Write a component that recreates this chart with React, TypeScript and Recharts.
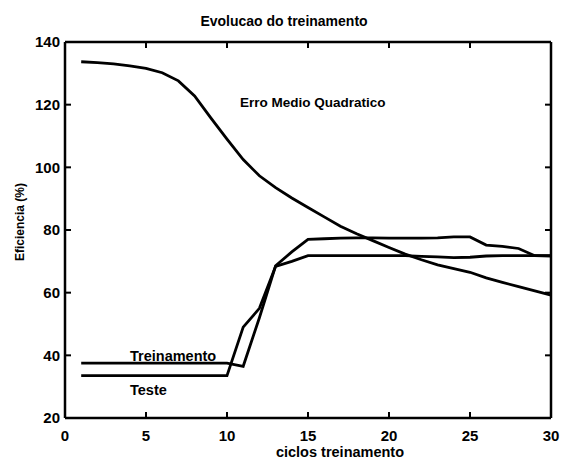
import { Line, LineChart, XAxis, YAxis } from 'recharts'

const ciclos = Array.from({ length: 30 }, (_, i) => i + 1)

const erroMedio = [
  133.7, 133.4, 133.0, 132.4, 131.6, 130.2, 127.6, 122.8, 115.8, 109.0,
  102.5, 97.3, 93.5, 90.2, 87.2, 84.2, 81.2, 78.8, 76.6, 74.4,
  72.3, 70.5, 68.9, 67.7, 66.5, 64.7, 63.3, 61.9, 60.6, 59.2,
]

const treinamento = [
  37.5, 37.5, 37.5, 37.5, 37.5, 37.5, 37.5, 37.5, 37.5, 37.5,
  36.5, 52.0, 68.6, 73.0, 77.0, 77.2, 77.4, 77.5, 77.5, 77.4,
  77.4, 77.4, 77.5, 77.8, 77.8, 75.2, 74.8, 74.1, 71.8, 71.7,
]

const teste = [
  33.5, 33.5, 33.5, 33.5, 33.5, 33.5, 33.5, 33.5, 33.5, 33.5,
  49.0, 55.0, 68.4, 70.0, 71.8, 71.8, 71.8, 71.8, 71.8, 71.8,
  71.8, 71.6, 71.4, 71.2, 71.3, 71.7, 71.8, 71.8, 71.8, 71.8,
]

const xTicks = [0, 5, 10, 15, 20, 25, 30]
const yTicks = [20, 40, 60, 80, 100, 120, 140]

const data = ciclos.map((c, i) => ({
  ciclo: c,
  erro: erroMedio[i],
  treinamento: treinamento[i],
  teste: teste[i],
}))

const W = 561
const H = 461
// plot box, the chart margins are worked out from it
const plot = { left: 65, top: 42, right: 551, bottom: 418 }
const TICK = 6

const px = (v: number) => plot.left + (v / 30) * (plot.right - plot.left)
const py = (v: number) => plot.bottom - ((v - 20) / 120) * (plot.bottom - plot.top)

const font = 'Arial, "Liberation Sans", sans-serif'
const axisLine = { stroke: '#000', strokeWidth: 2.5 }
const labelStyle = { fill: '#000', fontSize: 15, fontWeight: 'bold', fontFamily: font }

export default function App() {
  return (
    <div style={{ position: 'absolute', left: 0, top: 0, width: W, height: H, background: '#fff' }}>
      <LineChart
        width={W}
        height={H}
        data={data}
        margin={{ top: plot.top - 1, right: W - plot.right - 1, bottom: 0, left: 0 }}
      >
        <XAxis
          dataKey="ciclo"
          type="number"
          domain={[0, 30]}
          ticks={xTicks}
          height={H - plot.bottom}
          tickSize={0}
          tickMargin={12}
          tick={labelStyle}
          axisLine={axisLine}
          tickLine={false}
        />
        <XAxis
          xAxisId="top"
          orientation="top"
          dataKey="ciclo"
          type="number"
          domain={[0, 30]}
          ticks={xTicks}
          height={1}
          tick={false}
          axisLine={axisLine}
          tickLine={false}
        />
        <YAxis
          type="number"
          domain={[20, 140]}
          ticks={yTicks}
          width={plot.left}
          tickSize={0}
          tickMargin={5}
          tick={labelStyle}
          axisLine={axisLine}
          tickLine={false}
        />
        <YAxis
          yAxisId="right"
          orientation="right"
          type="number"
          domain={[20, 140]}
          ticks={yTicks}
          width={1}
          tick={false}
          axisLine={axisLine}
          tickLine={false}
        />
        <Line dataKey="erro" stroke="#000" strokeWidth={2.8} dot={false} isAnimationActive={false} />
        <Line dataKey="treinamento" stroke="#000" strokeWidth={2.8} dot={false} isAnimationActive={false} />
        <Line dataKey="teste" stroke="#000" strokeWidth={2.8} dot={false} isAnimationActive={false} />
      </LineChart>
      <svg width={W} height={H} style={{ position: 'absolute', left: 0, top: 0, pointerEvents: 'none' }}>
        {/* MATLAB-style inward ticks on all four sides */}
        <g stroke="#000" strokeWidth={2}>
          {xTicks.slice(1, -1).map((t) => (
            <g key={'x' + t}>
              <line x1={px(t)} x2={px(t)} y1={plot.bottom} y2={plot.bottom - TICK} />
              <line x1={px(t)} x2={px(t)} y1={plot.top} y2={plot.top + TICK} />
            </g>
          ))}
          {yTicks.slice(1, -1).map((t) => (
            <g key={'y' + t}>
              <line x1={plot.left} x2={plot.left + TICK} y1={py(t)} y2={py(t)} />
              <line x1={plot.right} x2={plot.right - TICK} y1={py(t)} y2={py(t)} />
            </g>
          ))}
        </g>
        <g fontFamily={font} fontWeight="bold">
          <text x={284} y={26} fontSize={14} textAnchor="middle" fill="#000">Evolucao do treinamento</text>
          <text x={240} y={107} fontSize={13.5} fill="#000">Erro Medio Quadratico</text>
          <text x={130} y={361} fontSize={14.5} fill="#000">Treinamento</text>
          <text x={130} y={395} fontSize={14.5} fill="#000">Teste</text>
          <text x={340} y={457} fontSize={14.5} textAnchor="middle" fill="#000">ciclos treinamento</text>
          <text x={24} y={222} fontSize={12} textAnchor="middle" fill="#000" transform="rotate(-90 24 222)">Eficiencia (%)</text>
        </g>
      </svg>
    </div>
  )
}
